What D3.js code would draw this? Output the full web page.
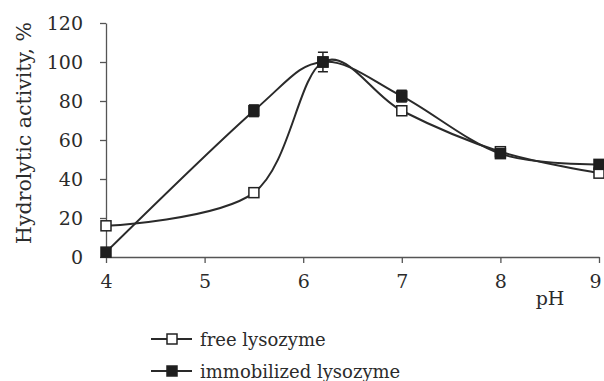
<html>
<head>
<script src="https://cdnjs.cloudflare.com/ajax/libs/d3/7.8.5/d3.min.js"></script>
<style>
  body { margin: 0; background: #fff; }
  text { font-family: "DejaVu Serif", serif; fill: #2b2b2b; }
</style>
</head>
<body>
<div class="chart"></div>
<script>
var phValues = [4, 5.5, 6.2, 7, 8, 9];
var freeLyso = [16, 33, 100, 75, 54, 43];
var immobLyso = [2.5, 75, 100, 82.5, 53, 47.5];
var immobErr = [0, 3, 5, 3, 1.5, 1];
var xTicks = [4, 5, 6, 7, 8, 9];
var yTicks = [0, 20, 40, 60, 80, 100, 120];
var seriesNames = ["free lysozyme", "immobilized lysozyme"];

var width = 604, height = 381;
var svg = d3.select(".chart").append("svg")
  .attr("width", width).attr("height", height);

var x = d3.scaleLinear().domain([4, 9]).range([106, 599]);
var y = d3.scaleLinear().domain([0, 120]).range([257, 23]);

var axisColor = "#555";

// x axis
var gx = svg.append("g").attr("transform", "translate(0," + y(0) + ")")
  .call(d3.axisBottom(x).tickValues(xTicks).tickFormat(d3.format("d"))
    .tickSize(6).tickPadding(12).tickSizeOuter(0));
gx.select(".domain").attr("stroke", axisColor).attr("stroke-width", 1.3);
gx.selectAll(".tick line").attr("stroke", axisColor).attr("stroke-width", 1.3);
gx.selectAll(".tick text").attr("font-size", 19).style("font-family", "DejaVu Serif").attr("fill", "#333");
gx.selectAll(".tick").filter(function(d){ return d === 9; }).select("text").attr("dx", -4);

// y axis
var gy = svg.append("g").attr("transform", "translate(" + x(4) + ",0)")
  .call(d3.axisLeft(y).tickValues(yTicks).tickSize(6).tickPadding(17).tickSizeOuter(0));
gy.select(".domain").attr("stroke", axisColor).attr("stroke-width", 1.3);
gy.selectAll(".tick line").attr("stroke", axisColor).attr("stroke-width", 1.3);
gy.selectAll(".tick text").attr("font-size", 19).style("font-family", "DejaVu Serif").attr("fill", "#333");

svg.append("text")
  .attr("transform", "translate(31,133) rotate(-90)")
  .attr("text-anchor", "middle")
  .attr("font-size", 20.5)
  .text("Hydrolytic activity, %");

svg.append("text")
  .attr("x", 550).attr("y", 305)
  .attr("text-anchor", "middle")
  .attr("font-size", 19)
  .text("pH");

var line = d3.line()
  .x(function(d){ return x(d[0]); })
  .y(function(d){ return y(d[1]); })
  .curve(d3.curveCardinal.tension(0));

var freeData = phValues.map(function(p, i){ return [p, freeLyso[i]]; });
var immobData = phValues.map(function(p, i){ return [p, immobLyso[i], immobErr[i]]; });

svg.append("path").datum(freeData).attr("d", line)
  .attr("fill", "none").attr("stroke", "#2a2a2a").attr("stroke-width", 2);
svg.append("path").datum(immobData).attr("d", line)
  .attr("fill", "none").attr("stroke", "#2a2a2a").attr("stroke-width", 2);

// error bars
var eb = svg.append("g").selectAll("g").data(immobData.filter(function(d){ return d[2] > 1; }))
  .enter().append("g");
eb.append("line")
  .attr("x1", function(d){ return x(d[0]); }).attr("x2", function(d){ return x(d[0]); })
  .attr("y1", function(d){ return y(d[1] - d[2]); }).attr("y2", function(d){ return y(d[1] + d[2]); })
  .attr("stroke", "#222").attr("stroke-width", 1.5);
eb.append("line")
  .attr("x1", function(d){ return x(d[0]) - 5; }).attr("x2", function(d){ return x(d[0]) + 5; })
  .attr("y1", function(d){ return y(d[1] + d[2]); }).attr("y2", function(d){ return y(d[1] + d[2]); })
  .attr("stroke", "#222").attr("stroke-width", 1.5);
eb.append("line")
  .attr("x1", function(d){ return x(d[0]) - 5; }).attr("x2", function(d){ return x(d[0]) + 5; })
  .attr("y1", function(d){ return y(d[1] - d[2]); }).attr("y2", function(d){ return y(d[1] - d[2]); })
  .attr("stroke", "#222").attr("stroke-width", 1.5);

var ms = 10;
svg.append("g").selectAll("rect").data(freeData).enter().append("rect")
  .attr("x", function(d){ return x(d[0]) - ms / 2; })
  .attr("y", function(d){ return y(d[1]) - ms / 2; })
  .attr("width", ms).attr("height", ms)
  .attr("fill", "#fff").attr("stroke", "#222").attr("stroke-width", 1.5);
svg.append("g").selectAll("rect").data(immobData).enter().append("rect")
  .attr("x", function(d){ return x(d[0]) - ms / 2; })
  .attr("y", function(d){ return y(d[1]) - ms / 2; })
  .attr("width", ms).attr("height", ms)
  .attr("fill", "#1e1e1e").attr("stroke", "#1e1e1e").attr("stroke-width", 1.5);

// legend
var legend = svg.append("g").selectAll("g").data(seriesNames).enter().append("g")
  .attr("transform", function(d, i){ return "translate(151," + (339 + i * 32) + ")"; });
legend.append("line").attr("x1", 0).attr("x2", 41).attr("y1", 0).attr("y2", 0)
  .attr("stroke", "#2a2a2a").attr("stroke-width", 2);
legend.append("rect").attr("x", 16).attr("y", -5).attr("width", 10).attr("height", 10)
  .attr("fill", function(d, i){ return i === 0 ? "#fff" : "#1e1e1e"; })
  .attr("stroke", "#222").attr("stroke-width", 1.5);
legend.append("text").attr("x", 49).attr("y", 7).attr("font-size", 18)
  .text(function(d){ return d; });
</script>
</body>
</html>
